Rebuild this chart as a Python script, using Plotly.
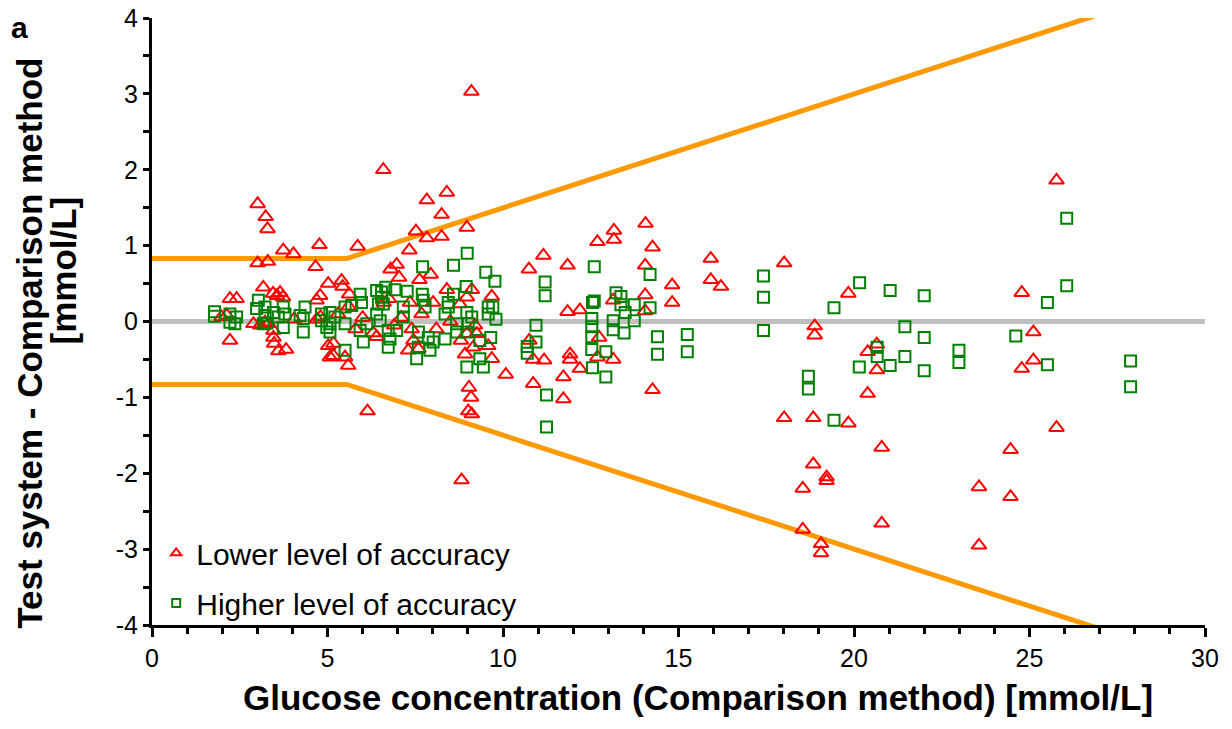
import plotly.graph_objects as go

# ---- data ----
lower_x = [3.01, 3.24, 3.29, 3.74, 4.03, 4.77, 3.01, 3.30, 4.66, 5.02, 3.17, 2.22, 2.41, 3.45, 3.56, 3.65,
           3.73, 4.69, 4.79, 2.22, 3.46, 3.46, 3.48, 3.60, 3.82, 5.02, 5.07, 1.98, 2.13, 2.89, 3.08, 3.22,
           3.31, 4.05, 4.70, 4.80,
           6.59, 7.83, 8.40, 8.25, 7.52, 7.83, 8.25, 8.97, 5.86, 7.33, 6.97, 6.80, 7.04, 7.62, 7.94, 5.40,
           5.43, 5.62, 8.40, 9.11, 8.01, 8.97, 9.68, 7.35, 7.68, 8.77, 5.17, 5.50, 5.59, 5.17, 7.30, 7.59,
           8.97, 8.92, 9.15, 9.58, 9.68, 9.25, 6.14, 9.03, 9.09, 9.01, 9.11, 8.82, 9.10,
           6.00, 6.30, 6.60, 6.90, 7.10, 7.40, 8.10, 8.50, 8.80, 9.20, 6.40, 5.80, 5.30, 5.60, 6.75, 7.45,
           11.15, 10.74, 11.84, 12.69, 13.16, 13.16, 14.06, 14.26, 14.05, 14.05, 13.14, 14.82, 14.82, 11.84,
           12.19, 14.05, 12.74, 10.75, 10.86, 11.17, 11.91, 11.91, 12.69, 13.14, 12.19, 10.08, 10.86, 11.72,
           11.72, 14.26,
           15.92, 15.92, 16.21, 18.01, 19.84, 18.88, 18.88, 20.65, 20.39, 20.65, 20.39, 18.01, 18.84, 19.84,
           20.79, 25.77, 24.78, 25.11, 25.11, 24.78, 25.77, 18.84, 19.22, 19.22, 18.54, 20.79, 18.54, 19.06,
           19.06, 24.46, 23.56, 24.46, 23.56]
lower_y = [1.55, 1.38, 1.22, 0.94, 0.89, 1.01, 0.77, 0.79, 0.72, 0.50, 0.45, 0.30, 0.30, 0.37, 0.34, 0.38,
           0.32, 0.28, 0.34, -0.25, -0.12, -0.21, -0.29, -0.39, -0.37, -0.32, -0.47, 0.06, 0.08, -0.03, -0.05, -0.01,
           -0.03, 0.03, 0.03, 0.06,
           2.00, 1.60, 1.70, 1.41, 1.19, 1.10, 1.12, 1.24, 0.99, 0.94, 0.75, 0.69, 0.58, 0.55, 0.62, 0.54,
           0.46, 0.36, 0.42, 0.42, 0.25, 0.32, 0.33, 0.25, 0.10, 0.23, -0.29, -0.47, -0.58, -0.45, -0.38, -0.36,
           -0.16, -0.43, -0.34, -0.32, -0.49, -0.16, -1.18, -0.87, -1.00, -1.18, -1.22, -2.09, 3.03,
           0.05, -0.15, 0.25, -0.05, 0.05, -0.10, -0.10, 0.00, -0.25, -0.05, -0.20, -0.10, 0.10, 0.20, 0.30, -0.25,
           0.87, 0.69, 0.74, 1.05, 1.20, 1.08, 1.29, 0.98, 0.74, 0.35, 0.28, 0.48, 0.25, 0.13,
           0.15, 0.14, -0.21, -0.25, -0.50, -0.51, -0.43, -0.50, -0.47, -0.50, -0.62, -0.70, -0.82, -0.73,
           -1.02, -0.90,
           0.83, 0.55, 0.46, 0.77, 0.37, -0.06, -0.18, -0.30, -0.40, -0.64, -0.95, -1.27, -1.27, -1.34,
           -1.66, 1.86, 0.38, -0.14, -0.51, -0.62, -1.40, -1.88, -2.05, -2.10, -2.20, -2.66, -2.74, -2.93,
           -3.05, -1.69, -2.18, -2.31, -2.95]

higher_x = [1.78, 1.78, 2.22, 2.22, 2.41, 2.36, 3.03, 2.98, 3.22, 3.22, 3.17, 3.27, 3.46, 3.60, 3.74, 3.79,
            3.74, 4.22, 4.36, 4.31, 4.31, 4.83, 4.83, 4.98, 5.07,
            8.98, 8.59, 7.71, 9.51, 9.77, 8.95, 8.59, 8.44, 8.44, 7.27, 6.92, 6.66, 6.54, 6.40, 7.70, 7.73,
            7.78, 5.93, 5.69, 5.50, 5.97, 6.54, 6.59, 6.45, 7.16, 7.16, 6.97, 8.35, 8.35, 8.97, 9.01, 8.97,
            8.68, 8.68, 9.11, 9.58, 9.58, 9.65, 9.34, 9.34, 8.97, 9.44, 7.59, 7.59, 7.54, 7.87, 8.01, 7.92,
            6.73, 6.78, 6.73, 6.40, 6.50, 6.12, 5.93, 6.02, 5.07, 5.07, 5.21, 5.50, 5.50,
            12.60, 11.20, 11.20, 14.19, 12.55, 12.60, 13.22, 13.36, 13.36, 13.74, 14.19, 9.71, 9.80, 12.53,
            12.53, 12.53, 12.53, 12.55, 13.14, 13.14, 13.45, 13.74, 13.48, 10.94, 10.94, 10.69, 10.69, 12.93,
            12.93, 14.40, 14.40, 11.24, 11.24,
            17.42, 17.42, 17.42, 15.25, 15.25, 20.16, 19.43, 21.03, 21.45, 21.45, 20.66, 20.66, 20.15, 21.03,
            18.70, 18.70, 19.43,
            26.06, 26.06, 25.51, 22.00, 22.00, 22.00, 22.99, 22.99, 24.61, 25.51, 27.88, 27.88]
higher_y = [0.13, 0.07, 0.10, -0.01, 0.06, -0.03, 0.28, 0.17, 0.19, 0.08, -0.03, -0.02, 0.12, 0.06, 0.19, 0.10,
            -0.08, 0.08, 0.19, 0.04, -0.14, 0.10, 0.01, -0.08, -0.14,
            0.90, 0.74, 0.72, 0.65, 0.53, 0.46, 0.36, 0.25, 0.19, 0.40, 0.42, 0.45, 0.39, 0.41, 0.36, 0.28,
            0.19, 0.36, 0.21, 0.19, 0.25, 0.32, 0.23, 0.23, 0.19, 0.06, -0.12, 0.10, -0.23, 0.12, -0.03, -0.14,
            -0.03, -0.14, 0.06, 0.19, 0.10, -0.21, -0.25, -0.49, -0.60, -0.60, -0.14, -0.34, -0.49, -0.21, -0.27, -0.38,
            -0.12, -0.23, -0.34, 0.10, 0.01, -0.03, -0.12, -0.27, 0.12, -0.03, 0.06, -0.03, -0.38,
            0.72, 0.52, 0.34, 0.62, 0.25, 0.27, 0.38, 0.33, 0.22, 0.22, 0.18, 0.19, 0.03, 0.04,
            -0.07, -0.20, -0.37, -0.61, 0.01, -0.11, -0.15, 0.01, 0.12, -0.05, -0.27, -0.33, -0.42, -0.40,
            -0.73, -0.20, -0.43, -0.97, -1.39,
            0.60, 0.32, -0.12, -0.17, -0.40, 0.51, 0.18, 0.41, -0.07, -0.46, -0.34, -0.46, -0.60, -0.58,
            -0.72, -0.89, -1.30,
            1.36, 0.47, 0.25, 0.34, -0.21, -0.65, -0.38, -0.54, -0.19, -0.57, -0.52, -0.86]

limit_x = [0, 5.55, 30]
limit_upper = [0.83, 0.83, 4.5]
limit_lower = [-0.83, -0.83, -4.5]
zero_x = [0, 30]
zero_y = [0, 0]

x_ticks = [0, 5, 10, 15, 20, 25, 30]
y_ticks = [-4, -3, -2, -1, 0, 1, 2, 3, 4]

FONT = "Liberation Sans, Arial, sans-serif"
RED = "#FF0000"
GREEN = "#008000"
ORANGE = "#FF9900"
GREY = "#BFBFBF"

fig = go.Figure()
fig.add_trace(go.Scatter(x=zero_x, y=zero_y, mode="lines", line=dict(color=GREY, width=5),
                         showlegend=False, hoverinfo="skip"))
fig.add_trace(go.Scatter(x=limit_x, y=limit_upper, mode="lines", line=dict(color=ORANGE, width=5),
                         showlegend=False, hoverinfo="skip"))
fig.add_trace(go.Scatter(x=limit_x, y=limit_lower, mode="lines", line=dict(color=ORANGE, width=5),
                         showlegend=False, hoverinfo="skip"))
fig.add_trace(go.Scatter(x=lower_x, y=lower_y, mode="markers", name="Lower level of accuracy",
                         showlegend=False,
                         marker=dict(symbol="triangle-up-open", size=13, color=RED, line=dict(width=2, color=RED))))
fig.add_trace(go.Scatter(x=higher_x, y=higher_y, mode="markers", name="Higher level of accuracy",
                         showlegend=False,
                         marker=dict(symbol="square-open", size=11, color=GREEN, line=dict(width=2, color=GREEN))))
# legend entries (small symbols as in the reference)
fig.add_trace(go.Scatter(x=[None], y=[None], mode="markers", name="Lower level of accuracy", legendgroup="a",
                         marker=dict(symbol="triangle-up-open", size=9, color=RED, line=dict(width=2, color=RED))))
fig.add_trace(go.Scatter(x=[None], y=[None], mode="markers", name="Higher level of accuracy", legendgroup="b",
                         marker=dict(symbol="square-open", size=8, color=GREEN, line=dict(width=2, color=GREEN))))

fig.update_layout(
    width=1232, height=729,
    margin=dict(l=152, r=27, t=18, b=104, autoexpand=False),
    paper_bgcolor="white", plot_bgcolor="white",
    font=dict(family=FONT, color="black", size=25),
    legend=dict(x=0.004, y=0.1615, xanchor="left", yanchor="top", bgcolor="rgba(0,0,0,0)",
                font=dict(size=30, family=FONT), tracegroupgap=8, traceorder="grouped"),
    showlegend=True,
)
fig.update_xaxes(range=[0, 30], showgrid=False, zeroline=False, showline=True, linecolor="black", linewidth=3,
                 automargin=False,
                 ticks="outside", ticklen=9, tickwidth=3, tickcolor="black",
                 tickvals=x_ticks, ticktext=[str(v) for v in x_ticks], ticklabeloverflow="allow",
                 minor=dict(dtick=1, ticks="outside", ticklen=6, tickwidth=3, tickcolor="black"),
                 tickfont=dict(size=25, family=FONT))
fig.update_yaxes(range=[-4, 4], showgrid=False, zeroline=False, showline=True, linecolor="black", linewidth=3,
                 automargin=False,
                 ticks="outside", ticklen=6, tickwidth=3, tickcolor="black",
                 tickvals=y_ticks, ticktext=[str(v) for v in y_ticks], ticklabeloverflow="allow",
                 minor=dict(dtick=0.5, ticks="outside", ticklen=6, tickwidth=3, tickcolor="black"),
                 tickfont=dict(size=25, family=FONT))

fig.add_annotation(text="<b>Glucose concentration (Comparison method) [mmol/L]</b>", xref="paper", yref="paper",
                   x=0.5185, y=-0.119, xanchor="center", yanchor="middle", showarrow=False,
                   font=dict(size=35, family=FONT))
fig.add_annotation(text="<b>Test system - Comparison method</b>", xref="paper", yref="paper",
                   x=-0.1159, y=0.465, xanchor="center", yanchor="middle", showarrow=False, textangle=-90,
                   font=dict(size=35, family=FONT))
fig.add_annotation(text="<b>[mmol/L]</b>", xref="paper", yref="paper",
                   x=-0.0836, y=0.584, xanchor="center", yanchor="middle", showarrow=False, textangle=-90,
                   font=dict(size=35, family=FONT))
fig.add_annotation(text="<b>a</b>", xref="paper", yref="paper", x=-0.126, y=0.985,
                   xanchor="center", yanchor="middle", showarrow=False, font=dict(size=30, family=FONT))

# remove the browser's default 8px body margin so the figure fills the window exactly
fig.write_html("out.html", config={"displayModeBar": False},
               post_script="document.body.style.margin='0px';")
